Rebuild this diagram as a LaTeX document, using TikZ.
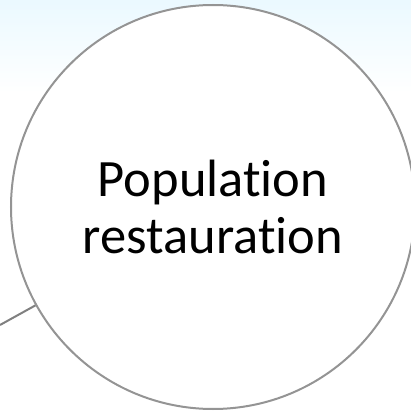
\documentclass[tikz,border=0pt]{standalone}
\usepackage{fontspec}
\setmainfont{Carlito}[Ligatures=NoCommon]
\begin{document}
\begin{tikzpicture}[x=1pt, y=1pt]
     % Background
     \useasboundingbox (0,0) rectangle (411,413);
     \fill[white] (0,0) rectangle (411,413);
     \shade[top color=blue!30!cyan!8, bottom color=white] (0,320) rectangle (411,413);

     % Main circle
     \node[draw=black!42, line width=2pt, fill=white, circle, minimum size=404pt, inner sep=0pt, align=center, font=\fontsize{52.5}{57}\selectfont] (restore) at (213,206) {
         Population\\
         restauration
     };

     % Link from the left
     \coordinate (link) at (0,88);
     \draw[black!50, line width=2pt] (link) -- (restore);

\end{tikzpicture}
\end{document}
